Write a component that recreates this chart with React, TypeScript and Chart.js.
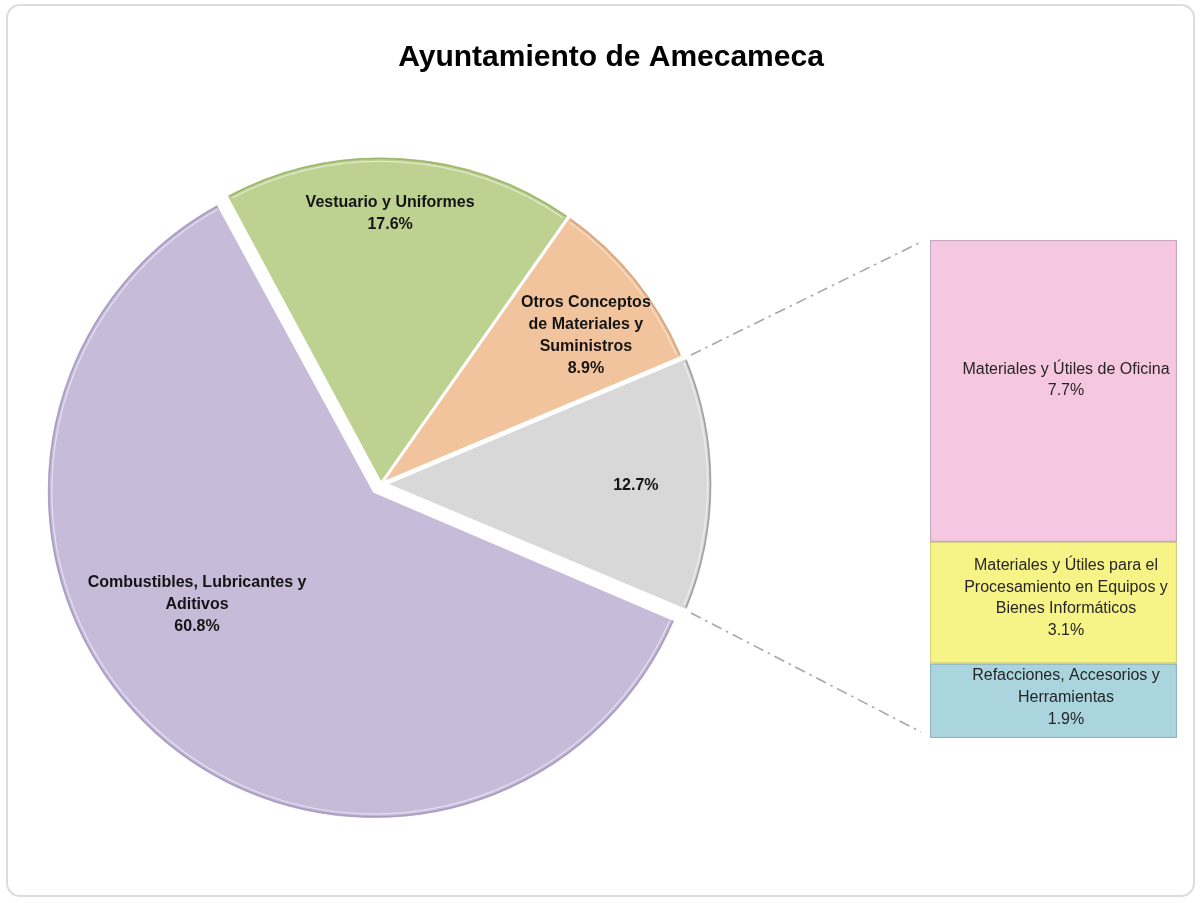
import React, { useEffect, useRef } from "react";
import { Chart, registerables } from "chart.js";

Chart.register(...registerables);

// ---------- data ----------
const TITLE = "Ayuntamiento de Amecameca";

const pieCategories: string[][] = [
  ["Combustibles, Lubricantes y", "Aditivos"],
  ["Vestuario y Uniformes"],
  ["Otros Conceptos", "de Materiales y", "Suministros"],
  [],
];
const pieValues = [60.8, 17.6, 8.9, 12.7];
const pieColors = ["#C7BBDA", "#BDD291", "#F1C49E", "#D8D8D8"];
const pieEdgeColors = ["#A99DC2", "#9EB56F", "#D8A781", "#A2A2A2"];

const barCategories: string[][] = [
  ["Materiales y Útiles de Oficina"],
  ["Materiales y Útiles para el", "Procesamiento en Equipos y", "Bienes Informáticos"],
  ["Refacciones, Accesorios y", "Herramientas"],
];
const barValues = [7.7, 3.1, 1.9];
const barColors = ["#F6C7E0", "#F6F487", "#AAD4DE"];
const barBorderColors = ["#C9A9BC", "#D3D27A", "#8FB4BE"];

// ---------- layout ----------
const PIE_R = 328;
const PIE_OFFSETS = [40, 0, 0, 16];
const PIE_LABEL_SHIFT_DEG = [14.4, -1.5, 3, 0.4];
const PIE_LABEL_FRAC = [0.671, 0.826, 0.771, 0.777];
const BAR_LABEL_DY = [-11, -4.5, -3];
const BAR_LABEL_DX = 12.5;

function hasFont(name: string): boolean {
  const c = document.createElement("canvas").getContext("2d");
  if (!c) return false;
  const s = "Materiales y Útiles mmmwwwiiiOQ";
  let diff = false;
  for (const base of ["monospace", "serif"]) {
    c.font = `72px ${base}`;
    const a = c.measureText(s).width;
    c.font = `72px '${name}', ${base}`;
    const b = c.measureText(s).width;
    if (Math.abs(a - b) > 0.5) diff = true;
  }
  return diff;
}

export default function App() {
  const pieRef = useRef<HTMLCanvasElement>(null);
  const barRef = useRef<HTMLCanvasElement>(null);

  useEffect(() => {
    const narrow = hasFont("Liberation Sans Narrow");
    const pieFont = narrow
      ? "bold 19.5px 'Liberation Sans Narrow', 'Liberation Sans', Arial, sans-serif"
      : "bold 16px 'Liberation Sans', Arial, sans-serif";
    const barFont = narrow
      ? "19.3px 'Liberation Sans Narrow', 'Liberation Sans', Arial, sans-serif"
      : "16px 'Liberation Sans', Arial, sans-serif";

    const barTotal = barValues.reduce((a, b) => a + b, 0);
    const pieTotal = pieValues.reduce((a, b) => a + b, 0);

    const barLabelPlugin = {
      id: "barLabels",
      afterDatasetsDraw(chart: any) {
        const ctx = chart.ctx;
        ctx.save();
        ctx.font = barFont;
        ctx.fillStyle = "#262626";
        ctx.textAlign = "center";
        ctx.textBaseline = "middle";
        chart.data.datasets.forEach((_ds: any, i: number) => {
          const el: any = chart.getDatasetMeta(i).data[0];
          const top = Math.min(el.y, el.base);
          const bot = Math.max(el.y, el.base);
          const lines = [...barCategories[i], `${barValues[i].toFixed(1)}%`];
          const cy = (top + bot) / 2 + BAR_LABEL_DY[i];
          const lh = 21.7;
          lines.forEach((ln, k) => {
            ctx.fillText(ln, el.x + BAR_LABEL_DX, cy + (k - (lines.length - 1) / 2) * lh);
          });
        });
        ctx.restore();
      },
    };

    const barChart = new Chart(barRef.current as HTMLCanvasElement, {
      type: "bar",
      data: {
        labels: [""],
        datasets: barValues.map((v, i) => ({
          label: barCategories[i].join(" "),
          data: [v],
          backgroundColor: barColors[i],
          borderColor: barBorderColors[i],
          borderWidth: 1.5,
          borderSkipped: false,
          barPercentage: 1,
          categoryPercentage: 1,
          stack: "s",
        })),
      },
      options: {
        responsive: false,
        animation: false,
        layout: { padding: { left: 30, top: 40, right: 27, bottom: 62 } },
        scales: {
          x: { display: false, stacked: true },
          y: { display: false, stacked: true, reverse: true, min: 0, max: barTotal },
        },
        plugins: { legend: { display: false }, tooltip: { enabled: false } },
      },
      plugins: [barLabelPlugin],
    } as any);

    const fixOf = (circ: number) => 1 - Math.sin(Math.min(Math.PI, circ || 0));

    const explodeFix = {
      id: "explodeFix",
      beforeDatasetsDraw(chart: any) {
        const meta = chart.getDatasetMeta(0);
        meta.data.forEach((el: any, i: number) => {
          const circ = el.endAngle - el.startAngle;
          el.outerRadius = PIE_R - ((PIE_OFFSETS[i] || 0) / 4) * fixOf(circ);
        });
      },
    };

    const sliceCenter = (el: any, i: number) => {
      const mid = (el.startAngle + el.endAngle) / 2;
      const t = (PIE_OFFSETS[i] || 0) / 4;
      return [el.x + Math.cos(mid) * t, el.y + Math.sin(mid) * t];
    };

    const pieDecor = {
      id: "pieDecor",
      afterDatasetsDraw(chart: any) {
        const ctx = chart.ctx;
        const meta = chart.getDatasetMeta(0);
        meta.data.forEach((el: any, i: number) => {
          const [cx, cy] = sliceCenter(el, i);
          const inset = 3 / PIE_R;
          ctx.save();
          ctx.beginPath();
          ctx.arc(cx, cy, PIE_R - 2.6, el.startAngle + inset, el.endAngle - inset);
          ctx.strokeStyle = pieEdgeColors[i];
          ctx.lineWidth = 1.6;
          ctx.stroke();
          ctx.beginPath();
          ctx.arc(cx, cy, PIE_R - 5.5, el.startAngle + inset * 1.6, el.endAngle - inset * 1.6);
          ctx.strokeStyle = "rgba(255,255,255,0.55)";
          ctx.lineWidth = 1.2;
          ctx.stroke();
          ctx.restore();
        });
      },
    };

    const pieLabelPlugin = {
      id: "pieLabels",
      afterDatasetsDraw(chart: any) {
        const ctx = chart.ctx;
        const meta = chart.getDatasetMeta(0);
        ctx.save();
        ctx.font = pieFont;
        ctx.fillStyle = "#141414";
        ctx.textAlign = "center";
        ctx.textBaseline = "middle";
        meta.data.forEach((el: any, i: number) => {
          const mid = (el.startAngle + el.endAngle) / 2 + (PIE_LABEL_SHIFT_DEG[i] * Math.PI) / 180;
          const d = PIE_LABEL_FRAC[i] * PIE_R;
          const x = el.x + Math.cos(mid) * d;
          const y = el.y + Math.sin(mid) * d;
          const lines = [...pieCategories[i], `${pieValues[i].toFixed(1)}%`];
          const lh = 22;
          lines.forEach((ln, k) => {
            ctx.fillText(ln, x, y + (k - (lines.length - 1) / 2) * lh);
          });
        });
        ctx.restore();
      },
    };

    const connectorPlugin = {
      id: "connectors",
      afterDraw(chart: any) {
        const ctx = chart.ctx;
        const el: any = chart.getDatasetMeta(0).data[3];
        const [cx, cy] = sliceCenter(el, 3);
        const bc = barRef.current as HTMLCanvasElement;
        const bl = bc.offsetLeft;
        const bt = bc.offsetTop;
        const topEl: any = barChart.getDatasetMeta(0).data[0];
        const botEl: any = barChart.getDatasetMeta(barValues.length - 1).data[0];
        const bx = bl + topEl.x - topEl.width / 2 - 9;
        const yTop = bt + Math.min(topEl.y, topEl.base) + 2;
        const yBot = bt + Math.max(botEl.y, botEl.base) - 6;
        const r = PIE_R + 4;
        const p1 = [cx + Math.cos(el.startAngle) * r, cy + Math.sin(el.startAngle) * r];
        const p2 = [cx + Math.cos(el.endAngle) * r, cy + Math.sin(el.endAngle) * r];
        ctx.save();
        ctx.strokeStyle = "#A8A8A8";
        ctx.lineWidth = 1.6;
        ctx.setLineDash([11, 5, 2.5, 5]);
        ctx.beginPath();
        ctx.moveTo(p1[0], p1[1]);
        ctx.lineTo(bx, yTop);
        ctx.moveTo(p2[0], p2[1]);
        ctx.lineTo(bx, yBot);
        ctx.stroke();
        ctx.restore();
      },
    };

    const titlePlugin = {
      id: "customTitle",
      afterDraw(chart: any) {
        const ctx = chart.ctx;
        ctx.save();
        ctx.font = "bold 30px 'Liberation Sans', Arial, sans-serif";
        ctx.fillStyle = "#000000";
        ctx.textAlign = "center";
        ctx.textBaseline = "middle";
        ctx.fillText(TITLE, 611, 58);
        ctx.restore();
      },
    };

    const pieChart = new Chart(pieRef.current as HTMLCanvasElement, {
      type: "pie",
      data: {
        labels: pieCategories.map((l) => (l.length ? l.join(" ") : "Otros")),
        datasets: [
          {
            data: pieValues,
            backgroundColor: pieColors,
            borderColor: "#FFFFFF",
            borderWidth: 3,
            offset: PIE_OFFSETS,
            radius: PIE_R,
          },
        ],
      },
      options: {
        responsive: false,
        animation: false,
        rotation: 90 + (pieValues[3] / pieTotal) * 180,
        layout: { padding: { left: 0, right: 442, top: 65, bottom: 0 } },
        plugins: { legend: { display: false }, tooltip: { enabled: false } },
      },
      plugins: [explodeFix, pieDecor, pieLabelPlugin, connectorPlugin, titlePlugin],
    } as any);

    return () => {
      pieChart.destroy();
      barChart.destroy();
    };
  }, []);

  return (
    <div
      style={{
        position: "absolute",
        left: 0,
        top: 0,
        width: 1204,
        height: 903,
        background: "#FFFFFF",
        overflow: "hidden",
      }}
    >
      <div
        style={{
          position: "absolute",
          left: 6,
          top: 4,
          width: 1189,
          height: 893,
          border: "2px solid #DCDCDC",
          borderRadius: 14,
          boxSizing: "border-box",
        }}
      />
      <canvas
        ref={pieRef}
        width={1204}
        height={903}
        style={{ position: "absolute", left: 0, top: 0, width: 1204, height: 903 }}
      />
      <canvas
        ref={barRef}
        width={304}
        height={600}
        style={{ position: "absolute", left: 900, top: 200, width: 304, height: 600 }}
      />
    </div>
  );
}
